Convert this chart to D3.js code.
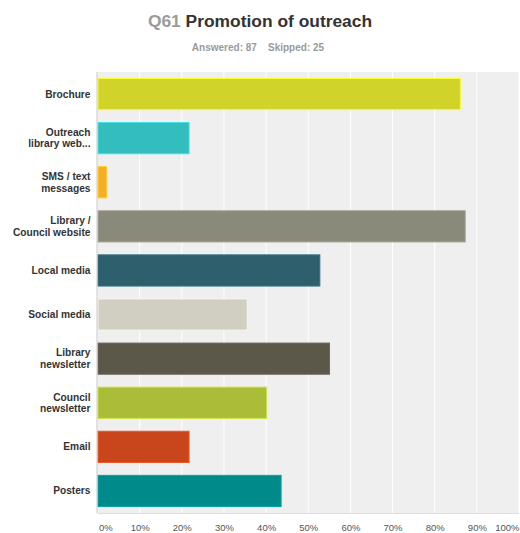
<!DOCTYPE html>
<html>
<head>
<meta charset="utf-8">
<script src="https://cdn.jsdelivr.net/npm/d3@7"></script>
<style>
  body { margin: 0; background: #fff; }
  svg { display: block; font-family: "Liberation Sans", Arial, sans-serif; }
</style>
</head>
<body>
<svg id="chart" width="520" height="533"></svg>
<script>
const categories = [
  ['Brochure'],
  ['Outreach', 'library web...'],
  ['SMS / text', 'messages'],
  ['Library /', 'Council website'],
  ['Local media'],
  ['Social media'],
  ['Library', 'newsletter'],
  ['Council', 'newsletter'],
  ['Email'],
  ['Posters']
];
const values = [86.21, 21.84, 2.30, 87.36, 52.87, 35.63, 55.17, 40.23, 21.84, 43.68];
const colors = ['#d0d42a', '#33bdbf', '#f7ad25', '#898a79', '#2e5f6d', '#d0cfc1', '#5b584a', '#abbd38', '#c9461c', '#008a8a'];
const xTicks = [0, 10, 20, 30, 40, 50, 60, 70, 80, 90, 100];

const svg = d3.select('#chart');
const margin = { top: 72, right: 1, bottom: 20, left: 97.5 };
const width = 520 - margin.left - margin.right;
const height = 513 - margin.top;

// title
const title = svg.append('text')
  .attr('x', 260)
  .attr('y', 27)
  .attr('text-anchor', 'middle')
  .attr('font-size', '17.4px')
  .attr('font-weight', 'bold');
title.append('tspan').attr('fill', '#9a9a9a').text('Q61 ');
title.append('tspan').attr('fill', '#333').text('Promotion of outreach');

svg.append('text')
  .attr('x', 258)
  .attr('y', 51)
  .attr('text-anchor', 'middle')
  .attr('font-size', '10px')
  .attr('font-weight', 'bold')
  .attr('fill', '#9a9a9a')
  .attr('xml:space', 'preserve')
  .text('Answered: 87    Skipped: 25');

const g = svg.append('g')
  .attr('transform', `translate(${margin.left}, ${margin.top})`);

const x = d3.scaleLinear().domain([0, 100]).range([0, width]);
const y = d3.scaleBand()
  .domain(d3.range(categories.length))
  .range([0, height])
  .paddingInner(0.27)
  .paddingOuter(0.135);

g.append('rect')
  .attr('width', width)
  .attr('height', height)
  .attr('fill', '#efefef');

g.selectAll('.grid')
  .data(xTicks.slice(1))
  .join('line')
  .attr('class', 'grid')
  .attr('x1', d => x(d))
  .attr('x2', d => x(d))
  .attr('y1', 0)
  .attr('y2', height)
  .attr('stroke', '#fff')
  .attr('stroke-width', 1);

g.selectAll('.bar')
  .data(values)
  .join('rect')
  .attr('class', 'bar')
  .attr('x', 0.5)
  .attr('y', (d, i) => y(i) + 0.5)
  .attr('width', d => x(d) - 1)
  .attr('height', y.bandwidth() - 1)
  .attr('fill', (d, i) => colors[i])
  .attr('stroke', (d, i) => d3.color(colors[i]).brighter(0.5))
  .attr('stroke-width', 1);

// left and bottom edges
g.append('line')
  .attr('x1', -0.5).attr('x2', -0.5)
  .attr('y1', 0).attr('y2', height)
  .attr('stroke', '#c8c8c8');
g.append('line')
  .attr('x1', 0).attr('x2', width)
  .attr('y1', height + 0.5).attr('y2', height + 0.5)
  .attr('stroke', '#dedede');

// category labels
const labels = g.selectAll('.cat')
  .data(categories)
  .join('text')
  .attr('class', 'cat')
  .attr('x', -7)
  .attr('y', (d, i) => y(i) + y.bandwidth() / 2)
  .attr('text-anchor', 'end')
  .attr('font-size', '10.2px')
  .attr('font-weight', 'bold')
  .attr('fill', '#333');
labels.each(function(d) {
  const t = d3.select(this);
  const lh = 11.5;
  const start = -(d.length - 1) * lh / 2 + 3.5;
  d.forEach((line, k) => {
    t.append('tspan')
      .attr('x', -7)
      .attr('dy', k === 0 ? start : lh)
      .text(line);
  });
});

// x axis labels
const xAxis = d3.axisBottom(x)
  .tickValues(xTicks)
  .tickSize(0)
  .tickFormat(d => d + '%');

g.append('g')
  .attr('transform', `translate(0, ${height})`)
  .call(xAxis)
  .call(a => a.select('.domain').remove())
  .selectAll('text')
  .attr('y', 11)
  .attr('font-family', '"Liberation Sans", Arial, sans-serif')
  .attr('font-size', '9.5px')
  .attr('fill', '#555')
  .attr('text-anchor', (d, i) => i === 0 ? 'start' : (i === xTicks.length - 1 ? 'end' : 'middle'))
  .attr('dx', (d, i) => i === 0 ? 1 : 0);
</script>
</body>
</html>
